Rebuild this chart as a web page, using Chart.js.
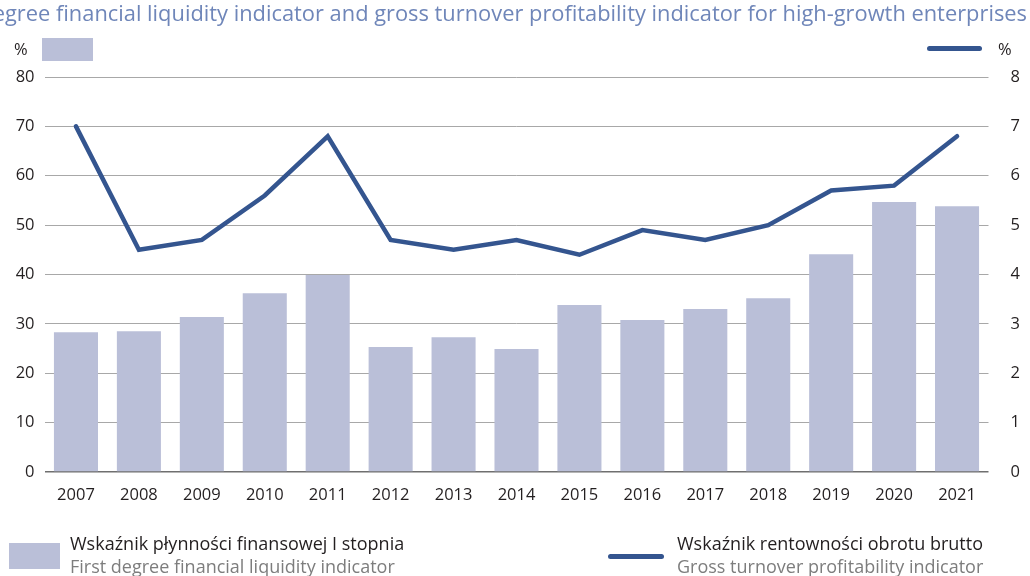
<!DOCTYPE html>
<html>
<head>
<meta charset="utf-8">
<script src="https://cdn.jsdelivr.net/npm/chart.js@4"></script>
<style>
  body { margin: 0; background: #fff; font-family: "Open Sans", sans-serif; }
  #wrap { position: relative; width: 1030px; height: 576px; overflow: hidden; }
  #wrap canvas { position: absolute; left: 0; top: 0; }
  .title { position: absolute; right: 3px; top: -2px; white-space: nowrap; color: #6f86b9; font-size: 21.85px; }
  .unit { position: absolute; top: 37px; font-size: 16.5px; color: #231f20; }
  .sw-bar { position: absolute; background: #babfd8; }
  .sw-line { position: absolute; height: 5px; border-radius: 3px; background: #34558f; }
  .leg { position: absolute; top: 532px; font-size: 18px; line-height: 23px; white-space: nowrap; }
  .leg .pl { color: #231f20; }
  .leg .en { color: #7d7d7d; }
</style>
</head>
<body>
<div id="wrap">
  <canvas id="myChart" width="1030" height="576"></canvas>
  <div class="title">First degree financial liquidity indicator and gross turnover profitability indicator for high-growth enterprises</div>
  <div class="unit" style="left:14px">%</div>
  <div class="sw-bar" style="left:42px;top:38px;width:51px;height:23px"></div>
  <div class="sw-line" style="left:927px;top:46px;width:55px"></div>
  <div class="unit" style="left:998px">%</div>

  <div class="sw-bar" style="left:9px;top:543px;width:51px;height:26px"></div>
  <div class="leg" style="left:70px"><div class="pl">Wskaźnik płynności finansowej I stopnia</div><div class="en">First degree financial liquidity indicator</div></div>
  <div class="sw-line" style="left:608px;top:554px;width:56px"></div>
  <div class="leg" style="left:677px"><div class="pl">Wskaźnik rentowności obrotu brutto</div><div class="en">Gross turnover profitability indicator</div></div>
</div>
<script>
// years on the x axis
var years = ['2007', '2008', '2009', '2010', '2011', '2012', '2013', '2014', '2015', '2016', '2017', '2018', '2019', '2020', '2021'];
// first degree financial liquidity indicator, % (left axis)
var liquidity = [28.3, 28.5, 31.4, 36.2, 39.9, 25.3, 27.3, 24.9, 33.8, 30.8, 33.0, 35.2, 44.1, 54.7, 53.8];
// gross turnover profitability indicator, % (right axis)
var profitability = [7.0, 4.5, 4.7, 5.6, 6.8, 4.7, 4.5, 4.7, 4.4, 4.9, 4.7, 5.0, 5.7, 5.8, 6.8];

var tickFont = { family: 'Open Sans', size: 16.5 };

var ctx = document.getElementById('myChart').getContext('2d');
var myChart = new Chart(ctx, {
    type: 'bar',
    data: {
        labels: years,
        datasets: [{
            type: 'line',
            label: 'Gross turnover profitability indicator',
            data: profitability,
            yAxisID: 'y1',
            borderColor: '#34558f',
            borderWidth: 4.5,
            pointRadius: 0,
            tension: 0,
            borderCapStyle: 'round',
            order: 1
        }, {
            label: 'First degree financial liquidity indicator',
            data: liquidity,
            yAxisID: 'y',
            backgroundColor: '#babfd8',
            categoryPercentage: 1,
            barPercentage: 0.7,
            order: 2
        }]
    },
    options: {
        responsive: false,
        animation: false,
        layout: { padding: { top: 77, bottom: 0, left: 0, right: 0 } },
        plugins: {
            legend: { display: false },
            tooltip: { enabled: false }
        },
        scales: {
            x: {
                grid: { display: false },
                border: { display: false },
                ticks: { color: '#231f20', font: tickFont, padding: 5, maxRotation: 0 },
                afterFit: function (scale) { scale.height = 104; }
            },
            y: {
                position: 'left',
                min: 0,
                max: 80,
                ticks: { stepSize: 10, color: '#231f20', font: tickFont, padding: 10 },
                grid: {
                    color: function (c) { return c.tick && c.tick.value === 0 ? '#6f6f6f' : '#a8a8a8'; },
                    lineWidth: function (c) { return c.tick && c.tick.value === 0 ? 1.5 : 1; },
                    drawTicks: false
                },
                border: { display: false },
                afterFit: function (scale) { scale.width = 44.5; }
            },
            y1: {
                position: 'right',
                min: 0,
                max: 8,
                ticks: { stepSize: 1, color: '#231f20', font: tickFont, padding: 14 },
                grid: { display: false },
                border: { display: false },
                afterFit: function (scale) { scale.width = 41.5; }
            }
        }
    }
});
</script>
</body>
</html>
